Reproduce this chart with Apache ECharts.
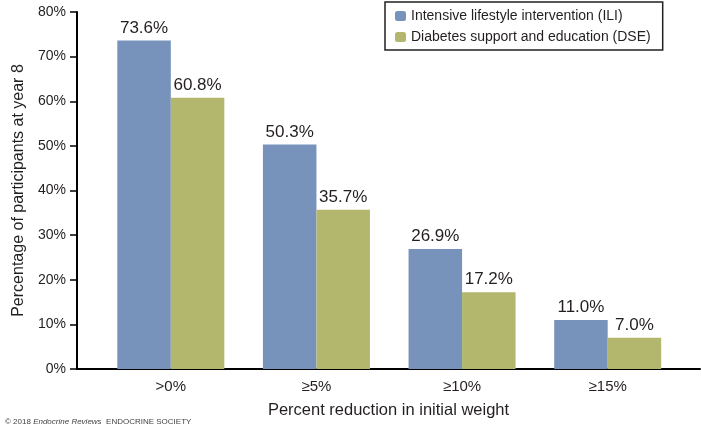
<!DOCTYPE html>
<html>
<head>
<meta charset="utf-8">
<script src="https://cdn.jsdelivr.net/npm/echarts@6/dist/echarts.min.js"></script>
<style>
  html, body { margin: 0; padding: 0; background: #fff; }
  #box { width: 701px; height: 430px; }
</style>
</head>
<body>
<div id="box"></div>
<script>
// data
const categories = ['>0%', '≥5%', '≥10%', '≥15%']
const seriesNames = ['Intensive lifestyle intervention (ILI)', 'Diabetes support and education (DSE)']
const iliValues = [73.6, 50.3, 26.9, 11.0]
const dseValues = [60.8, 35.7, 17.2, 7.0]
const yTicks = [0, 10, 20, 30, 40, 50, 60, 70, 80]

const font = '"Liberation Sans", Arial, sans-serif'
const textColor = '#231f20'

const myEcharts = echarts.init(document.getElementById('box'))

const barLabel = {
  show: true,
  position: 'top',
  distance: 4,
  fontFamily: font,
  fontSize: 17,
  color: textColor,
  formatter: p => p.value.toFixed(1) + '%'
}

const options = {
  animation: false,
  backgroundColor: '#fff',
  legend: {
    orient: 'vertical',
    left: 385,
    top: 2,
    padding: [6, 12, 5, 10],
    itemWidth: 11,
    itemHeight: 10,
    itemGap: 5,
    borderColor: '#231f20',
    borderWidth: 1.5,
    textStyle: { fontFamily: font, fontSize: 14, lineHeight: 16, color: textColor },
    data: seriesNames
  },
  grid: [
    // bars
    { left: 98, right: 20.5, top: 12, bottom: 61, outerBoundsMode: 'none' },
    // axis frame (y axis + long baseline)
    { left: 77, right: 1, top: 12, bottom: 61, outerBoundsMode: 'none' }
  ],
  xAxis: [
    {
      gridIndex: 0,
      type: 'category',
      data: categories,
      axisLine: { show: false },
      axisTick: { show: false },
      axisLabel: { fontFamily: font, fontSize: 15, color: textColor, margin: 10 }
    },
    {
      gridIndex: 1,
      type: 'value',
      min: 0,
      max: 1,
      axisLine: { show: true, lineStyle: { color: '#000', width: 2 } },
      axisTick: { show: false },
      axisLabel: { show: false },
      splitLine: { show: false },
      name: 'Percent reduction in initial weight',
      nameLocation: 'middle',
      nameGap: 33,
      nameTextStyle: { fontFamily: font, fontSize: 16.5, color: textColor }
    }
  ],
  yAxis: [
    { gridIndex: 0, type: 'value', min: 0, max: 80, show: false },
    {
      gridIndex: 1,
      type: 'value',
      min: yTicks[0],
      max: yTicks[yTicks.length - 1],
      interval: 10,
      axisLine: { show: true, lineStyle: { color: '#000', width: 2 } },
      axisTick: { show: true, length: 7, lineStyle: { color: '#000', width: 1.5 } },
      axisLabel: { fontFamily: font, fontSize: 14, color: textColor, margin: 11, formatter: '{value}%' },
      splitLine: { show: false },
      name: 'Percentage of participants at year 8',
      nameLocation: 'middle',
      nameGap: 50,
      nameTextStyle: { fontFamily: font, fontSize: 16, color: textColor }
    }
  ],
  series: [
    {
      name: seriesNames[0],
      type: 'bar',
      xAxisIndex: 0,
      yAxisIndex: 0,
      data: iliValues,
      barWidth: 53.5,
      barGap: '0%',
      itemStyle: { color: '#7793bb' },
      label: barLabel
    },
    {
      name: seriesNames[1],
      type: 'bar',
      xAxisIndex: 0,
      yAxisIndex: 0,
      data: dseValues,
      barWidth: 53.5,
      barGap: '0%',
      itemStyle: { color: '#b2b76d' },
      label: barLabel
    }
  ],
  graphic: [
    {
      type: 'text',
      left: 5,
      top: 418,
      style: {
        text: '© 2018 {i|Endocrine Reviews}  ENDOCRINE SOCIETY',
        fontFamily: font,
        fontSize: 8,
        fill: '#444',
        rich: { i: { fontFamily: font, fontSize: 8, fontStyle: 'italic', fill: '#444' } }
      }
    }
  ]
}

myEcharts.setOption(options)
</script>
</body>
</html>
